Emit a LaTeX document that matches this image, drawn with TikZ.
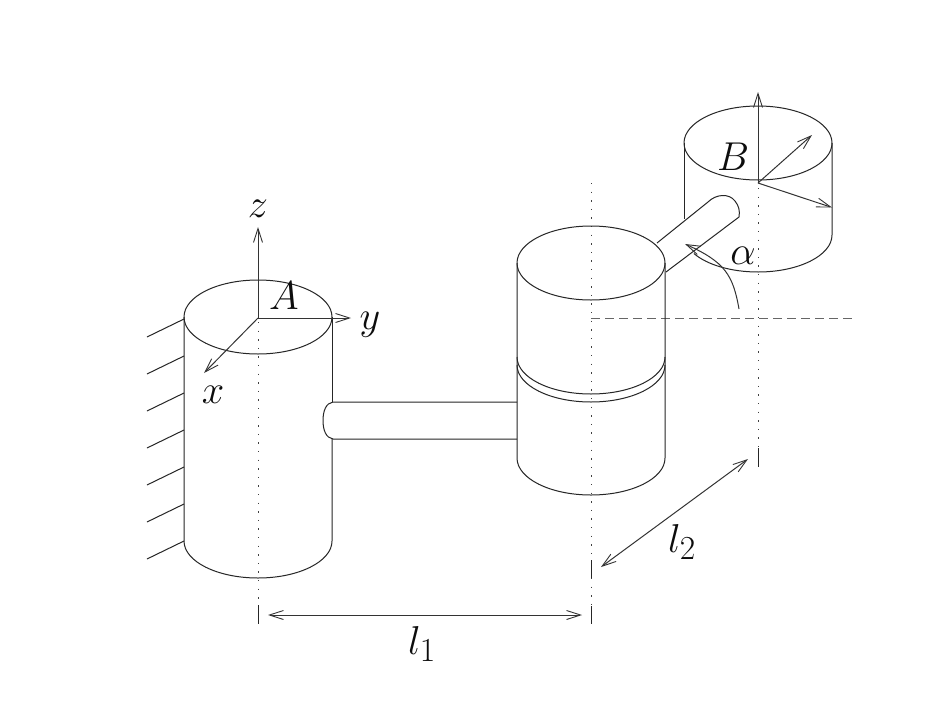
\documentclass[tikz,border=0pt]{standalone}
\usetikzlibrary{arrows.meta}
\tikzset{
  body/.style={line width=1pt,black!85},
  axisdot/.style={line width=0.9pt,black!75,dash pattern=on 1.3pt off 7.3pt},
  tick/.style={line width=1pt,black!85},
  guide/.style={line width=1.2pt,black!60,dash pattern=on 9pt off 5pt},
  vec/.style={line width=1pt,black!80,-{Straight Barb[length=14pt,width=9pt,line width=0.9pt]}},
  dimvec/.style={line width=1pt,black!80,{Straight Barb[length=14pt,width=9pt,line width=0.9pt]}-{Straight Barb[length=14pt,width=9pt,line width=0.9pt]}},
  lab/.style={inner sep=0pt,font=\Huge,scale=1.62,text=black!95},
  cap74/.style={x radius=74pt,y radius=37pt}
}
\begin{document}
\begin{tikzpicture}[x=1pt,y=-1pt]
\useasboundingbox (0,0) rectangle (942,704);
\fill[white] (0,0) rectangle (942,704);
% hatching
\foreach \yy in {319,356,393,430,467,504,541}{
  \draw[body] (184,\yy) -- ++(-37,18);
}
% axes
\draw[axisdot] (258,322) -- (258,605);
\draw[tick] (258,605) -- (258,624);
\draw[axisdot] (591,183) -- (591,560);
\draw[tick] (591,560) -- (591,578);
\draw[axisdot] (591,578) -- (591,606);
\draw[tick] (591,606) -- (591,624);
\draw[axisdot] (758,188) -- (758,448);
\draw[tick] (758,448) -- (758,467);
\draw[guide] (591,318.5) -- (852,318.5);
% left cylinder
\draw[body] (258,317) ellipse [cap74];
\draw[body] (184,317) -- (184,541) arc[start angle=180,end angle=360,cap74] -- (332,439);
\draw[body] (332,402) -- (332,317);
% left rod
\draw[body] (517,402) -- (333,402) .. controls (326,403) and (323,411) .. (323,420.5)
  .. controls (323,430) and (326,438) .. (333,439) -- (517,439);
% middle cylinder
\draw[body] (591,263) ellipse [cap74];
\draw[body] (517,263) -- (517,458) arc[start angle=180,end angle=360,cap74] -- (665,263);
\draw[body] (517,357) arc[start angle=180,end angle=360,cap74];
\draw[body] (517,365) arc[start angle=180,end angle=360,cap74];
% top cylinder
\draw[body] (758,143) ellipse [cap74];
\draw[body] (684,143) -- (684,219);
\draw[body] (832,143) -- (832,235) arc[start angle=360,end angle=210,cap74];
% small rod
\draw[body] (657,243) -- (708,202) .. controls (716,194) and (729,193) .. (735,201)
  .. controls (739,206) and (740,211) .. (739,217) -- (666,272);
% named ends of the vectors
\coordinate (A) at (258,318);
\coordinate (Az) at (258,227);
\coordinate (Ay) at (351,318);
\coordinate (Ax) at (204,373);
\coordinate (B) at (758,183);
\coordinate (Bz) at (758,92);
\coordinate (By) at (812,135);
\coordinate (Bx) at (832,207.5);
\coordinate (la) at (268,615);
\coordinate (lb) at (582,615);
\coordinate (lc) at (601,567);
\coordinate (ld) at (748,459);
\coordinate (aa) at (739,309);
\coordinate (ab) at (685,244);
\draw[vec] (A) -- (Az);
\draw[vec] (A) -- (Ay);
\draw[vec] (A) -- (Ax);
\draw[vec] (B) -- (Bz);
\draw[vec] (B) -- (By);
\draw[vec] (B) -- (Bx);
\draw[dimvec] (la) -- (lb);
\draw[dimvec] (lc) -- (ld);
\draw[vec] (aa) .. controls (733,275) and (725,262) .. (ab);
% labels
\node[lab] (tz) at (258,209) {$z$};
\node[lab] (tA) at (284,296) {$A$};
\node[lab] (ty) at (370,325) {$y$};
\node[lab] (tx) at (213,395) {$x$};
\node[lab] (tB) at (733,157) {$B$};
\node[lab] (talpha) at (743,256) {$\alpha$};
\node[lab] (tl1) at (422,644) {$l_1$};
\node[lab] (tl2) at (682,542) {$l_2$};
\end{tikzpicture}
\end{document}
